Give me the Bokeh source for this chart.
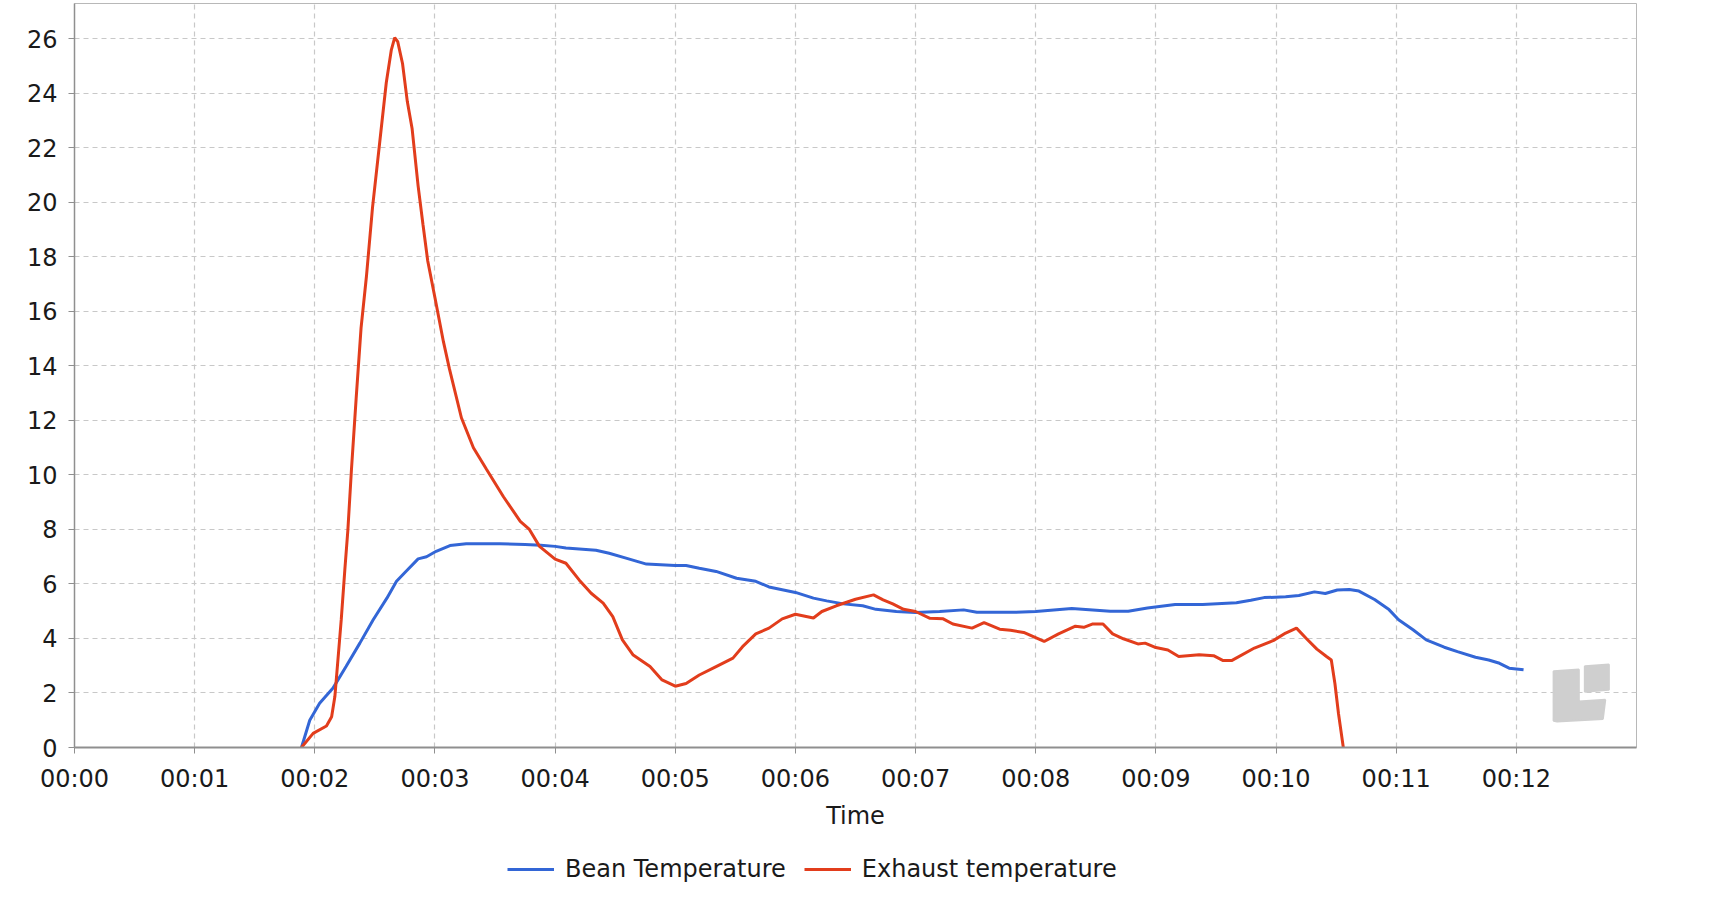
from bokeh.plotting import figure
from bokeh.models import FixedTicker, Range1d, Legend, LegendItem
from bokeh.layouts import column
from bokeh.embed import file_html
from bokeh.resources import INLINE

# ---- data (time in minutes) ----
bean_time = [1.889, 1.958, 2.04, 2.15, 2.26, 2.375, 2.486, 2.60, 2.68, 2.76,
             2.86, 2.93, 3.01, 3.125, 3.26, 3.54, 3.75, 3.88, 4.0, 4.09,
             4.34, 4.45, 4.59, 4.76, 5.0, 5.09, 5.2, 5.34, 5.51, 5.67,
             5.78, 6.0, 6.15, 6.26, 6.40, 6.56, 6.67, 6.84, 7.0, 7.2,
             7.4, 7.51, 7.81, 8.0, 8.30, 8.62, 8.77, 8.93, 9.16, 9.39,
             9.67, 9.79, 9.9, 10.08, 10.19, 10.32, 10.41, 10.51, 10.61, 10.69,
             10.82, 10.94, 11.02, 11.14, 11.25, 11.40, 11.51, 11.66, 11.77, 11.86,
             11.94, 12.06]
bean_value = [0, 1.0, 1.62, 2.17, 2.97, 3.83, 4.69, 5.48, 6.1, 6.47,
              6.92, 7.0, 7.2, 7.41, 7.48, 7.48, 7.45, 7.42, 7.38, 7.32,
              7.24, 7.13, 6.95, 6.73, 6.68, 6.68, 6.58, 6.46, 6.21, 6.1,
              5.89, 5.69, 5.48, 5.38, 5.27, 5.2, 5.07, 4.99, 4.95, 4.99,
              5.05, 4.96, 4.96, 4.99, 5.1, 5.0, 5.0, 5.12, 5.25, 5.25,
              5.31, 5.4, 5.5, 5.53, 5.58, 5.71, 5.65, 5.78, 5.8, 5.74,
              5.43, 5.06, 4.69, 4.32, 3.95, 3.68, 3.52, 3.31, 3.21, 3.09,
              2.91, 2.85]

exhaust_time = [1.889, 1.986, 2.097, 2.14, 2.167, 2.19, 2.22, 2.25, 2.275, 2.305,
                2.344, 2.385, 2.43, 2.48, 2.54, 2.595, 2.637, 2.665, 2.69, 2.73,
                2.77, 2.81, 2.86, 2.90, 2.94, 3.0, 3.07, 3.12, 3.22, 3.32,
                3.43, 3.57, 3.71, 3.786, 3.87, 4.0, 4.09, 4.2, 4.30, 4.40,
                4.48, 4.56, 4.65, 4.79, 4.89, 5.0, 5.09, 5.2, 5.34, 5.48,
                5.56, 5.67, 5.78, 5.89, 6.0, 6.15, 6.22, 6.34, 6.5, 6.65,
                6.73, 6.81, 6.9, 7.0, 7.12, 7.23, 7.31, 7.47, 7.57, 7.70,
                7.79, 7.9, 8.07, 8.19, 8.33, 8.4, 8.47, 8.56, 8.64, 8.73,
                8.85, 8.91, 8.99, 9.1, 9.19, 9.36, 9.48, 9.56, 9.63, 9.82,
                9.98, 10.08, 10.17, 10.25, 10.34, 10.42, 10.46, 10.49, 10.52, 10.56]
exhaust_value = [0, 0.52, 0.79, 1.13, 1.87, 3.09, 4.69, 6.53, 7.97, 10.2,
                 12.8, 15.4, 17.3, 19.8, 22.2, 24.4, 25.6, 26.05, 25.9, 25.1,
                 23.7, 22.7, 20.6, 19.2, 17.85, 16.5, 14.9, 13.9, 12.1, 11.0,
                 10.2, 9.2, 8.3, 8.0, 7.38, 6.91, 6.76, 6.15, 5.66, 5.3,
                 4.8, 3.95, 3.39, 2.97, 2.48, 2.25, 2.35, 2.66, 2.97, 3.28,
                 3.7, 4.17, 4.38, 4.72, 4.89, 4.75, 4.99, 5.2, 5.44, 5.6,
                 5.42, 5.27, 5.07, 4.99, 4.74, 4.72, 4.53, 4.38, 4.58, 4.34,
                 4.3, 4.22, 3.89, 4.17, 4.45, 4.41, 4.53, 4.53, 4.17, 3.99,
                 3.8, 3.83, 3.68, 3.58, 3.34, 3.4, 3.37, 3.19, 3.19, 3.65,
                 3.93, 4.2, 4.38, 4.01, 3.61, 3.34, 3.21, 2.35, 1.24, 0]

x_ticks = list(range(13))
x_tick_labels = ["00:00", "00:01", "00:02", "00:03", "00:04", "00:05", "00:06",
                 "00:07", "00:08", "00:09", "00:10", "00:11", "00:12"]
y_ticks = list(range(0, 27, 2))
series_names = ["Bean Temperature", "Exhaust temperature"]

# watermark logo outline (decoration)
logo_a_x = [12.31, 12.31, 12.52, 12.52, 12.74, 12.72, 12.34]
logo_a_y = [0.98, 2.80, 2.86, 1.69, 1.75, 1.05, 0.95]
logo_b_x = [12.57, 12.57, 12.77, 12.77]
logo_b_y = [2.05, 2.98, 3.05, 2.12]

FONT = "DejaVu Sans"
FS = "24px"
BLUE = "#3366d6"
RED = "#e23d1c"
LW = 3

p = figure(width=1696, height=832, output_backend="svg", toolbar_location=None,
           x_range=Range1d(0, 13), y_range=Range1d(0, 27.3),
           min_border_left=74, min_border_right=60, min_border_top=3,
           min_border_bottom=85)
p.background_fill_color = "white"
p.border_fill_color = "white"
p.outline_line_color = "#b8b8b8"
p.outline_line_width = 1

# grid
for g in (p.xgrid, p.ygrid):
    g.grid_line_color = "#c8c8c8"
    g.grid_line_dash = "5 4"
    g.grid_line_width = 1.2
p.xgrid.ticker = FixedTicker(ticks=x_ticks)
p.ygrid.ticker = FixedTicker(ticks=y_ticks)

# axes
p.xaxis.ticker = FixedTicker(ticks=x_ticks)
p.xaxis.major_label_overrides = {t: lab for t, lab in zip(x_ticks, x_tick_labels)}
p.yaxis.ticker = FixedTicker(ticks=y_ticks)
p.xaxis.axis_label = "Time"
for ax in (p.xaxis, p.yaxis):
    ax.major_label_text_font = FONT
    ax.major_label_text_font_size = FS
    ax.major_label_text_color = "#1a1a1a"
    ax.axis_label_text_font = FONT
    ax.axis_label_text_font_size = FS
    ax.axis_label_text_font_style = "normal"
    ax.axis_label_text_color = "#1a1a1a"
    ax.axis_line_color = "#8f8f8f"
    ax.major_tick_line_color = "#8f8f8f"
    ax.major_tick_in = 0
    ax.major_tick_out = 6
    ax.minor_tick_line_color = None
    ax.major_label_standoff = 11
p.xaxis.axis_line_width = 2
p.yaxis.axis_line_width = 1.5
p.xaxis.axis_label_standoff = 6

# watermark
p.patch(logo_a_x, logo_a_y, fill_color="#cfcfcf", line_color="#cfcfcf", line_width=2)
p.patch(logo_b_x, logo_b_y, fill_color="#cfcfcf", line_color="#cfcfcf", line_width=2)

# series
p.line(bean_time, bean_value, line_color=BLUE, line_width=LW)
p.line(exhaust_time, exhaust_value, line_color=RED, line_width=LW)

# ---- legend strip below the chart (series drawn out of view, legend only) ----
q = figure(width=1696, height=64, output_backend="svg", toolbar_location=None,
           x_axis_type=None, y_axis_type=None, x_range=Range1d(-2, -1),
           y_range=Range1d(-2, -1), min_border=0)
q.outline_line_color = None
q.background_fill_color = "white"
q.border_fill_color = "white"
q.grid.visible = False
k_bean = q.line(bean_time, bean_value, line_color=BLUE, line_width=LW)
k_exh = q.line(exhaust_time, exhaust_value, line_color=RED, line_width=LW)

legend = Legend(items=[LegendItem(label=series_names[0], renderers=[k_bean]),
                       LegendItem(label=series_names[1], renderers=[k_exh])],
                orientation="horizontal", location=(433, 13))
legend.label_text_font = FONT
legend.label_text_font_size = FS
legend.label_text_color = "#1a1a1a"
legend.glyph_width = 47
legend.label_standoff = 11
legend.spacing = 18
legend.padding = 0
legend.margin = 0
legend.border_line_color = None
legend.background_fill_alpha = 0
q.add_layout(legend, "center")

layout = column(p, q, spacing=0)
open("out.html", "w").write(file_html(layout, INLINE))
